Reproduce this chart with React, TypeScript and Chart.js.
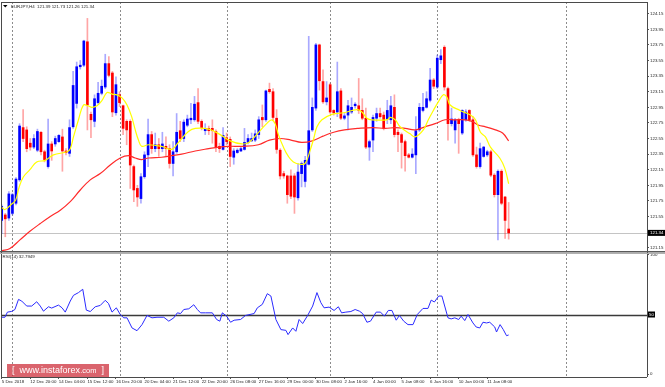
import React, { useEffect, useRef } from "react";
import { Chart, registerables } from "chart.js";

Chart.register(...registerables);

// ---------- data ----------
const symbolHeader = "EURJPY,H4  121.39 121.73 121.26 121.34";
const rsiHeader = "RSI(14) 32.7949";
const lastPrice = 121.34;
const lastPriceLabel = "121.34";
const rsiLevel = 50;
const rsiLevelLabel = "50";

const opens = [
  121.50, 121.57, 121.53, 121.59, 121.72, 122.02, 122.69, 122.66, 122.49, 122.44,
  122.40, 122.63, 122.38, 122.19, 122.48, 122.48, 122.51, 122.57, 122.39, 122.36,
  122.70, 123.00, 123.47, 123.49, 123.79, 122.86, 122.77, 123.01, 123.13, 123.21,
  123.51, 123.39, 122.88, 123.11, 122.97, 122.77, 122.77, 122.19, 121.91, 121.78,
  122.06, 122.34, 122.60, 122.42, 122.47, 122.42, 122.45, 122.42, 122.23, 122.38,
  122.65, 122.55, 122.72, 122.79, 122.79, 123.01, 122.77, 122.65, 122.68, 122.68,
  122.64, 122.45, 122.41, 122.56, 122.54, 122.31, 122.37, 122.39, 122.41, 122.50,
  122.52, 122.53, 122.60, 122.82, 122.79, 123.18, 123.15, 122.81, 122.40, 122.10,
  122.07, 122.07, 122.07, 121.79, 122.10, 122.00, 122.22, 122.66, 122.94, 123.75,
  123.28, 123.02, 123.24, 122.91, 122.89, 123.16, 122.81, 122.85, 122.89, 122.97,
  122.97, 122.91, 122.81, 122.44, 122.53, 122.81, 122.87, 122.85, 122.80, 122.79,
  122.95, 122.63, 122.60, 122.51, 122.34, 122.31, 122.34, 122.66, 122.91, 122.95,
  123.04, 123.30, 123.21, 123.56, 123.72, 123.19, 122.74, 122.66, 122.79, 122.62,
  122.79, 122.91, 122.79, 122.34, 122.19, 122.32, 122.34, 122.38, 122.08, 121.83,
  122.13, 121.80, 121.39,
];
const highs = [
  121.70, 121.59, 121.87, 121.85, 122.05, 122.74, 122.92, 122.70, 122.55, 122.60,
  122.67, 122.64, 122.40, 122.80, 122.51, 122.58, 122.60, 122.67, 122.42, 122.79,
  123.41, 123.53, 123.55, 123.81, 124.09, 122.89, 123.11, 123.27, 123.30, 123.63,
  123.60, 123.41, 123.34, 123.15, 122.98, 122.79, 122.79, 122.21, 121.95, 122.10,
  122.38, 122.80, 122.64, 122.62, 122.55, 122.63, 122.57, 122.47, 122.51, 122.87,
  122.77, 122.79, 122.85, 123.00, 123.09, 123.19, 122.79, 122.74, 122.71, 122.79,
  122.66, 122.49, 122.69, 122.62, 122.57, 122.42, 122.42, 122.44, 122.68, 122.60,
  122.62, 122.66, 122.83, 122.98, 123.17, 123.26, 123.19, 122.92, 122.42, 122.13,
  122.08, 122.15, 122.10, 122.23, 122.25, 122.32, 123.86, 123.07, 123.77, 123.76,
  123.43, 123.28, 123.26, 122.92, 123.53, 123.19, 122.87, 123.04, 123.07, 123.01,
  123.32, 123.06, 122.94, 122.53, 122.85, 122.94, 122.94, 122.89, 123.04, 123.09,
  123.11, 122.66, 122.62, 122.53, 122.36, 122.42, 122.83, 123.00, 123.13, 123.15,
  123.45, 123.32, 123.62, 123.69, 123.74, 123.21, 122.94, 122.81, 122.81, 122.92,
  122.92, 122.92, 122.83, 122.44, 122.49, 122.45, 122.40, 122.40, 122.10, 122.15,
  122.15, 121.81, 121.73,
];
const lows = [
  121.33, 121.29, 121.50, 121.57, 121.70, 122.00, 122.51, 122.38, 122.40, 122.42,
  122.38, 122.34, 122.25, 122.17, 122.27, 122.45, 122.50, 122.13, 122.34, 122.32,
  122.68, 122.94, 123.44, 123.47, 122.66, 122.56, 122.70, 122.99, 123.11, 123.19,
  123.34, 122.83, 122.85, 122.96, 122.60, 122.47, 121.91, 121.74, 121.68, 121.72,
  122.04, 122.19, 122.36, 122.38, 122.32, 122.38, 122.32, 122.17, 122.07, 122.36,
  122.51, 122.51, 122.70, 122.74, 122.77, 122.74, 122.66, 122.60, 122.60, 122.49,
  122.38, 122.37, 122.40, 122.47, 122.19, 122.22, 122.36, 122.38, 122.40, 122.48,
  122.51, 122.51, 122.55, 122.70, 122.77, 123.13, 122.79, 122.36, 122.03, 122.04,
  121.72, 121.78, 121.59, 121.76, 121.93, 121.93, 122.21, 122.64, 122.91, 123.17,
  123.00, 122.98, 122.87, 122.85, 122.83, 122.79, 122.79, 122.66, 122.87, 122.94,
  122.87, 122.79, 122.42, 122.27, 122.38, 122.77, 122.81, 122.66, 122.74, 122.74,
  122.57, 122.38, 122.17, 122.13, 122.30, 122.30, 122.10, 122.64, 122.89, 122.94,
  123.02, 123.19, 123.19, 123.51, 123.17, 122.53, 122.71, 122.49, 122.36, 122.60,
  122.77, 122.77, 122.32, 122.17, 122.17, 122.31, 122.32, 122.06, 121.80, 121.25,
  121.70, 121.27, 121.26,
];
const closes = [
  121.68, 121.52, 121.84, 121.83, 122.03, 122.71, 122.55, 122.42, 122.44, 122.55,
  122.64, 122.38, 122.28, 122.48, 122.39, 122.55, 122.59, 122.39, 122.37, 122.69,
  123.23, 123.47, 123.49, 123.80, 122.98, 122.79, 123.06, 123.13, 123.22, 123.51,
  123.36, 122.89, 123.24, 123.01, 122.68, 122.66, 122.21, 121.89, 121.80, 122.06,
  122.34, 122.60, 122.42, 122.47, 122.42, 122.48, 122.42, 122.23, 122.38, 122.63,
  122.55, 122.76, 122.80, 122.81, 122.99, 122.77, 122.69, 122.68, 122.65, 122.65,
  122.44, 122.42, 122.59, 122.51, 122.32, 122.39, 122.40, 122.42, 122.50, 122.55,
  122.55, 122.61, 122.79, 122.79, 123.16, 123.15, 122.82, 122.41, 122.07, 122.07,
  121.83, 121.81, 121.80, 122.12, 122.23, 122.27, 122.65, 122.95, 123.75, 123.29,
  123.02, 123.07, 122.89, 122.88, 123.15, 122.81, 122.84, 122.97, 122.95, 122.99,
  122.91, 122.81, 122.44, 122.51, 122.82, 122.87, 122.83, 122.68, 122.91, 122.97,
  122.60, 122.60, 122.50, 122.33, 122.31, 122.35, 122.65, 122.95, 122.95, 123.06,
  123.30, 123.22, 123.58, 123.61, 123.21, 122.74, 122.80, 122.79, 122.74, 122.91,
  122.89, 122.79, 122.34, 122.19, 122.42, 122.44, 122.38, 122.08, 121.83, 122.13,
  121.72, 121.50, 121.34,
];

const fastMaBars = [
  0, 0.9, 2.8, 3.9, 4.9, 6.1, 7.9, 9.8, 12.2, 14.5, 18.3, 19.2, 20.1, 21.5, 22.9, 24.1,
  25.3, 26.7, 28.1, 29.5, 30.9, 32.3, 33.7, 35.1, 36.4, 37.4, 38.3, 39.2, 41.1, 44.8,
  47.6, 49.5, 52.3, 54.2, 58, 61.2, 64, 67.3, 69.2, 71.4, 74.2, 75.6, 76.6, 77.5, 78.9,
  80.3, 81.7, 83.6, 85, 86.4, 87.4, 88.3, 89.7, 92.5, 95.8, 99.5, 100.9, 102.3, 103.7,
  107.9, 108.8, 110.2, 111.6, 114.4, 115.8, 118.1, 119.5, 120.9, 122.3, 123.7, 124.7,
  125.6, 128.4, 131.3, 132.7, 134.1, 135.5, 136.9, 139.5, 140.9, 142,
];
const fastMaValues = [
  121.67, 121.64, 121.71, 121.76, 121.93, 122.06, 122.15, 122.25, 122.27, 122.34, 122.38, 122.42, 122.57, 122.79, 122.98, 122.97,
  122.95, 122.97, 123.04, 123.14, 123.12, 123.11, 123.07, 122.98, 122.83, 122.66, 122.53, 122.45, 122.47, 122.45,
  122.41, 122.50, 122.64, 122.68, 122.67, 122.60, 122.52, 122.48, 122.50, 122.60, 122.74, 122.79, 122.74, 122.60, 122.44,
  122.32, 122.25, 122.22, 122.23, 122.40, 122.55, 122.70, 122.79, 122.86, 122.88, 122.92, 122.89, 122.81, 122.79,
  122.79, 122.82, 122.79, 122.70, 122.61, 122.57, 122.66, 122.79, 122.91, 123.02, 123.11, 123.08,
  122.98, 122.91, 122.85, 122.79, 122.63, 122.57, 122.44, 122.30, 122.17, 121.97,
];

const slowMaBars = [
  0, 2.3, 5.1, 7.9, 10.8, 13.6, 16.4, 19.2, 22, 24.8, 27.6, 30.4, 33.2, 35.5, 37.4, 39.2,
  41.1, 44.8, 47.6, 50.4, 54.2, 58, 60.8, 63.6, 67.3, 71.9, 75, 78, 81, 84, 87, 90, 93,
  96, 100, 104, 107.4, 110.2, 113, 115.8, 118.6, 121.4, 124.2, 127, 129.8, 131.7, 133.6,
  135.5, 138.3, 140.3, 142,
];
const slowMaValues = [
  121.11, 121.14, 121.25, 121.36, 121.46, 121.55, 121.63, 121.74, 121.89, 122.02, 122.10, 122.21, 122.30, 122.33, 122.30, 122.28,
  122.30, 122.31, 122.33, 122.35, 122.39, 122.42, 122.44, 122.45, 122.45, 122.47, 122.53, 122.55, 122.53, 122.50, 122.52, 122.58, 122.63,
  122.66, 122.68, 122.69, 122.68, 122.69, 122.68, 122.66, 122.70, 122.74, 122.79, 122.79, 122.79, 122.77, 122.72,
  122.70, 122.66, 122.62, 122.52,
];

const rsiBars = [
  0, 0.9, 1.6, 2.8, 3.7, 4.7, 5.6, 7.0, 8.4, 9.8, 10.8, 11.7, 13.1, 14.0, 15.9, 16.9, 17.8,
  19.2, 20.1, 21.5, 22.7, 23.7, 24.8, 26.2, 27.6, 29.0, 29.9, 30.9, 32.1, 33.2, 34.2, 35.1,
  36.5, 37.9, 39.3, 40.7, 42.1, 43.5, 45.4, 46.8, 48.2, 49.2, 50.1, 51.0, 52.4, 53.8, 54.8,
  55.7, 57.1, 59.0, 60.2, 61.1, 61.8, 63.0, 64.1, 65.1, 66.9, 68.3, 70.7, 71.6, 73.0, 74.4,
  75.4, 76.8, 78.2, 79.6, 80.2, 81.5, 82.4, 83.3, 84.3, 85.7, 87.1, 88.3, 89.4, 90.3, 91.7,
  93.1, 94.3, 95.2, 96.4, 97.8, 99.0, 100.2, 101.1, 102.3, 103.3, 104.9, 106.1, 107.2,
  108.3, 109.3, 110.5, 111.4, 112.6, 113.8, 115.2, 116.4, 118.0, 119.4, 120.3, 121.2, 122.4,
  123.3, 125.0, 125.9, 126.9, 128.0, 128.7, 129.7, 130.6, 132.0, 132.9, 133.9, 134.8, 135.8,
  136.7, 138.1, 138.6, 139.6, 140.5, 141.4, 142,
];
const rsiValues = [
  47.7, 47.7, 52.0, 52.6, 54.2, 62.7, 61.3, 57.1, 57.1, 60.7, 57.1, 52.8, 56.5, 55.4, 57.9, 55.6, 52.0,
  61.3, 66.1, 68.4, 71.2, 53.7, 52.5, 56.5, 57.6, 61.9, 59.3, 52.0, 55.6, 50.0, 47.2, 47.2,
  38.7, 36.4, 41.5, 49.2, 47.2, 47.7, 47.7, 44.4, 47.2, 51.4, 50.8, 54.2, 54.8, 58.2, 54.2,
  51.4, 51.4, 51.4, 45.8, 44.4, 51.4, 48.6, 43.5, 45.2, 45.8, 49.2, 50.8, 55.6, 58.5, 67.5,
  65.5, 45.8, 37.3, 36.7, 33.1, 38.7, 35.9, 45.8, 42.4, 49.2, 57.1, 68.4, 59.9, 55.6, 56.2,
  53.4, 56.5, 51.4, 52.0, 52.5, 54.2, 52.8, 50.8, 43.5, 44.4, 52.0, 52.0, 48.6,
  53.4, 53.4, 45.2, 49.2, 44.4, 41.5, 41.5, 50.0, 55.1, 55.1, 62.1, 60.5, 65.5,
  65.5, 47.2, 46.3, 47.2, 45.8, 48.6, 44.9, 50.0, 42.9, 39.5, 38.7, 43.5, 42.9,
  43.5, 39.5, 35.3, 41.5, 37.3, 32.2, 32.79,
];

const dateLabelBars = [0, 8, 16, 24, 32, 40, 48, 56, 64, 72, 80, 88, 96, 104, 112, 120, 128, 136];
const dateLabels = [
  "5 Dec 2018", "12 Dec 20:00", "14 Dec 04:00", "15 Dec 12:00", "16 Dec 20:00", "20 Dec 04:00",
  "21 Dec 12:00", "22 Dec 20:00", "26 Dec 08:00", "27 Dec 16:00", "29 Dec 00:00", "30 Dec 08:00",
  "2 Jan 16:00", "4 Jan 00:00", "5 Jan 08:00", "6 Jan 16:00", "10 Jan 00:00", "11 Jan 08:00",
];
const priceTicks = [
  121.15, 121.55, 121.75, 121.95, 122.15, 122.35, 122.55, 122.75, 122.95,
  123.15, 123.35, 123.55, 123.75, 123.95, 124.15,
];
const rsiTicks = [0, 100];
const separatorBars = [3, 33, 63, 92, 122, 158];

// ---------- styling ----------
const FONT = '"Liberation Sans", Arial, sans-serif';
const TEXT = "#1e1e1e";

const panesPlugin = {
  id: "panes",
  beforeDatasetsDraw(chart: any) {
    const { ctx, chartArea: a, scales } = chart;
    const xs = scales.x, ys = scales.y, rs = scales.y2;
    ctx.save();
    ctx.lineWidth = 1;
    ctx.strokeStyle = "#8c8c8c";
    ctx.setLineDash([2, 2]);
    separatorBars.forEach((b) => {
      const px = Math.round(xs.getPixelForValue(b)) + 0.5;
      ctx.beginPath();
      ctx.moveTo(px, a.top);
      ctx.lineTo(px, a.bottom);
      ctx.stroke();
    });
    ctx.setLineDash([]);
    const py = Math.round(ys.getPixelForValue(lastPrice)) + 0.5;
    ctx.strokeStyle = "#c4c4c4";
    ctx.beginPath();
    ctx.moveTo(a.left, py);
    ctx.lineTo(a.right, py);
    ctx.stroke();
    const ry = Math.round(rs.getPixelForValue(rsiLevel)) + 0.5;
    ctx.strokeStyle = "#3a3a3a";
    ctx.lineWidth = 1.5;
    ctx.beginPath();
    ctx.moveTo(a.left, ry);
    ctx.lineTo(a.right, ry);
    ctx.stroke();
    ctx.restore();
  },
  afterDraw(chart: any) {
    const { ctx, chartArea: a, scales, width } = chart;
    const ys = scales.y, rs = scales.y2;
    ctx.save();
    ctx.strokeStyle = "#4a4a4a";
    ctx.lineWidth = 1;
    const hl = (x1: number, x2: number, y: number) => {
      ctx.beginPath(); ctx.moveTo(x1, y); ctx.lineTo(x2, y); ctx.stroke();
    };
    const vl = (x: number, y1: number, y2: number) => {
      ctx.beginPath(); ctx.moveTo(x, y1); ctx.lineTo(x, y2); ctx.stroke();
    };
    hl(a.left, a.right, Math.round(a.top) + 0.5);
    hl(a.left, a.right, Math.round(a.bottom) + 0.5);
    vl(Math.round(a.left) + 0.5, a.top, a.bottom);
    vl(Math.round(a.right) + 0.5, a.top, a.bottom);
    // pane separator
    ctx.fillStyle = "#5a5a5a";
    ctx.fillRect(0, Math.round(ys.bottom) - 1, width, 1.5);
    ctx.fillStyle = "#b0b0b0";
    ctx.fillRect(0, Math.round(ys.bottom) + 1, width, 1);

    // label boxes
    ctx.font = `4.4px ${FONT}`;
    ctx.textBaseline = "middle";
    ctx.textAlign = "left";
    const py = ys.getPixelForValue(lastPrice);
    ctx.fillStyle = "#000";
    ctx.fillRect(a.right + 1, py - 3, 17, 6);
    ctx.fillStyle = "#fff";
    ctx.fillText(lastPriceLabel, a.right + 3, py);
    const ry = rs.getPixelForValue(rsiLevel);
    ctx.fillStyle = "#000";
    ctx.fillRect(a.right + 1, ry - 3, 7, 6);
    ctx.fillStyle = "#fff";
    ctx.fillText(rsiLevelLabel, a.right + 2, ry);

    // headers
    ctx.fillStyle = "#000";
    ctx.beginPath();
    ctx.moveTo(3, 5);
    ctx.lineTo(7.5, 5);
    ctx.lineTo(5.25, 7.5);
    ctx.closePath();
    ctx.fill();
    ctx.fillStyle = TEXT;
    ctx.fillText(symbolHeader, 11, 6.5);
    ctx.fillText(rsiHeader, 2.5, rs.top + 4.5);
    ctx.restore();
  },
};

export default function App() {
  const canvasRef = useRef<HTMLCanvasElement | null>(null);

  useEffect(() => {
    const canvas = canvasRef.current;
    if (!canvas) return;
    const idx = opens.map((_, i) => i);
    const isUp = idx.map((i) => closes[i] >= opens[i]);

    const chart = new Chart(canvas, {
      type: "bar",
      data: {
        datasets: [
          {
            type: "bar",
            label: "Wicks",
            data: idx.map((i) => ({ x: i, y: [lows[i], highs[i]] })),
            backgroundColor: isUp.map((u) => (u ? "rgba(50,50,255,0.42)" : "rgba(255,40,40,0.42)")),
            barThickness: 1,
            grouped: false,
            xAxisID: "x",
            yAxisID: "y",
            order: 5,
          },
          {
            type: "bar",
            label: "Bodies",
            data: idx.map((i) => ({ x: i, y: [opens[i], closes[i]] })),
            backgroundColor: isUp.map((u) => (u ? "#0000ff" : "#ff0000")),
            barThickness: 2,
            minBarLength: 1,
            grouped: false,
            xAxisID: "x",
            yAxisID: "y",
            order: 4,
          },
          {
            type: "line",
            label: "Slow MA",
            data: slowMaBars.map((b, k) => ({ x: b, y: slowMaValues[k] })),
            borderColor: "#ff2a2a",
            borderWidth: 1.2,
            pointRadius: 0,
            tension: 0.4,
            xAxisID: "x",
            yAxisID: "y",
            order: 3,
          },
          {
            type: "line",
            label: "Fast MA",
            data: fastMaBars.map((b, k) => ({ x: b, y: fastMaValues[k] })),
            borderColor: "#ffff00",
            borderWidth: 1.2,
            pointRadius: 0,
            tension: 0.4,
            xAxisID: "x",
            yAxisID: "y",
            order: 2,
          },
          {
            type: "line",
            label: "RSI(14)",
            data: rsiBars.map((b, k) => ({ x: b, y: rsiValues[k] })),
            borderColor: "#2a2aff",
            borderWidth: 1,
            pointRadius: 0,
            tension: 0,
            xAxisID: "x",
            yAxisID: "y2",
            order: 1,
          },
        ],
      } as any,
      options: {
        responsive: false,
        animation: false,
        devicePixelRatio: 1,
        events: [],
        layout: { padding: { left: 1, top: 2, right: 0, bottom: 0 } },
        plugins: {
          legend: { display: false },
          tooltip: { enabled: false },
        },
        scales: {
          x: {
            type: "linear",
            position: "bottom",
            min: -0.2,
            max: 180.75,
            offset: false,
            afterBuildTicks: (s: any) => {
              s.ticks = dateLabelBars.map((v) => ({ value: v }));
            },
            afterFit: (s: any) => {
              s.height = 10;
              s.paddingLeft = 0;
              s.paddingRight = 0;
            },
            ticks: {
              autoSkip: false,
              maxRotation: 0,
              minRotation: 0,
              align: "start",
              padding: 0.5,
              color: TEXT,
              font: { family: FONT, size: 4.4 },
              callback: (v: any) => {
                const k = dateLabelBars.indexOf(Number(v));
                return k >= 0 ? dateLabels[k] : "";
              },
            },
            grid: { drawOnChartArea: false, drawTicks: true, tickLength: 2, color: "#555", offset: false },
            border: { display: false },
          },
          y: {
            type: "linear",
            position: "right",
            stack: "panes",
            stackWeight: 250,
            min: 121.095,
            max: 124.3,
            afterBuildTicks: (s: any) => {
              s.ticks = priceTicks.map((v) => ({ value: v }));
            },
            afterFit: (s: any) => {
              s.width = 18;
              s.paddingTop = 0;
              s.paddingBottom = 0;
            },
            ticks: {
              padding: 1,
              color: TEXT,
              font: { family: FONT, size: 4.4 },
              callback: (v: any) => Number(v).toFixed(2),
            },
            grid: { drawOnChartArea: false, drawTicks: true, tickLength: 2, color: "#555" },
            border: { display: false },
          },
          y2: {
            type: "linear",
            position: "right",
            stack: "panes",
            stackWeight: 125,
            min: -2.5,
            max: 102.5,
            afterBuildTicks: (s: any) => {
              s.ticks = rsiTicks.map((v) => ({ value: v }));
            },
            afterFit: (s: any) => {
              s.width = 18;
              s.paddingTop = 0;
              s.paddingBottom = 0;
            },
            ticks: {
              padding: 1,
              color: TEXT,
              font: { family: FONT, size: 4.4 },
              callback: (v: any) => String(v),
            },
            grid: { drawOnChartArea: false, drawTicks: true, tickLength: 2, color: "#555" },
            border: { display: false },
          },
        },
      } as any,
      plugins: [panesPlugin as any],
    });
    return () => chart.destroy();
  }, []);

  return (
    <div style={{ position: "fixed", left: 0, top: 0, width: 665, height: 387, background: "#fff", overflow: "hidden" }}>
      <canvas ref={canvasRef} width={665} height={387} style={{ display: "block" }} />
      <div
        style={{
          position: "absolute",
          left: 7,
          top: 364,
          width: 102,
          height: 13,
          background: "rgba(204, 40, 52, 0.72)",
          color: "#fff",
          fontFamily: FONT,
          fontSize: 9,
          lineHeight: "13px",
          whiteSpace: "nowrap",
          display: "flex",
          justifyContent: "space-between",
          padding: "0 5px",
          boxSizing: "border-box",
        }}
      >
        <span>[</span>
        <span>
          www.instaforex<span style={{ fontSize: 7.5 }}>.com</span>
        </span>
        <span>]</span>
      </div>
    </div>
  );
}
